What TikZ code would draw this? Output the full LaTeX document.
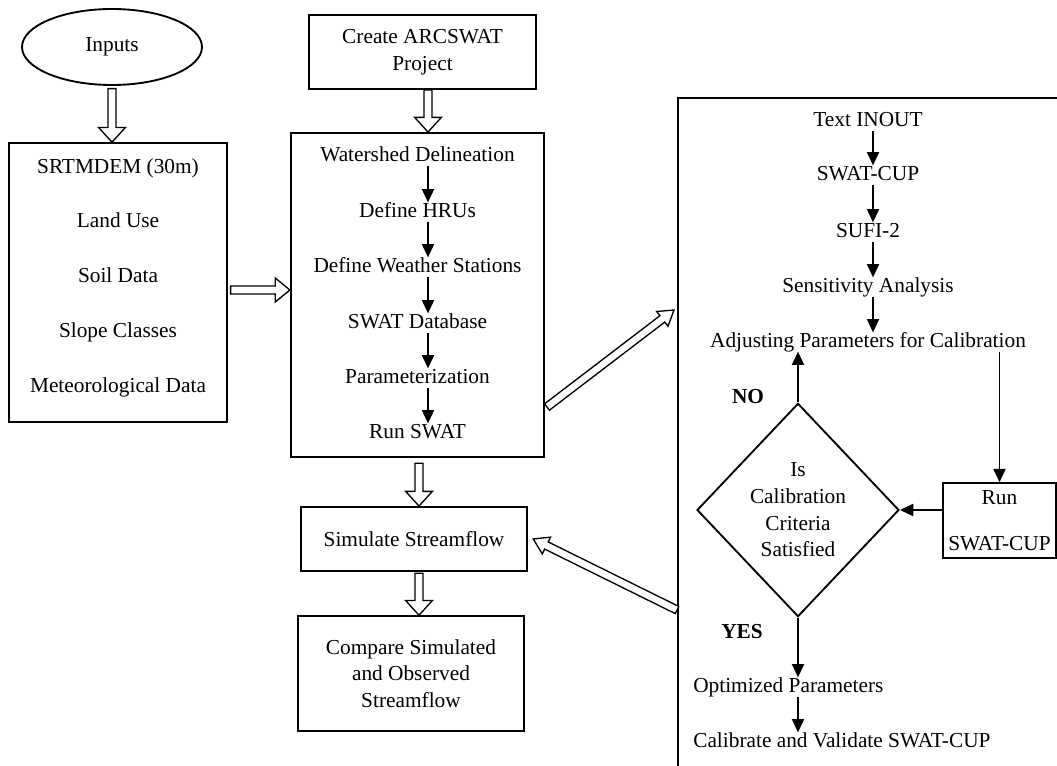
\documentclass[tikz,border=0pt]{standalone}
\usepackage{fontspec}
\setmainfont{Liberation Serif}
\usetikzlibrary{arrows.meta, positioning, shapes.geometric, calc}

% hollow block arrow between two points, optional head half-width
\newcommand\fatarrow[3][10pt]{%
  \coordinate (fa-a) at (#2);
  \coordinate (fa-b) at (#3);
  \coordinate (fa-h) at ($(fa-b)!11pt!(fa-a)$);
  \draw[hollow] ($(fa-a)!3pt!90:(fa-b)$) -- ($(fa-h)!3pt!-90:(fa-a)$) -- ($(fa-h)!#1!-90:(fa-a)$) -- (fa-b)
    -- ($(fa-h)!#1!90:(fa-a)$) -- ($(fa-h)!3pt!90:(fa-a)$) -- ($(fa-a)!3pt!-90:(fa-b)$) -- cycle;}

\begin{document}
\begin{tikzpicture}[x=0.75pt, y=-0.75pt,
    font=\fontsize{16}{20}\selectfont,
    box/.style={draw, line width=1.4pt, inner sep=0pt},
    lbl/.style={inner sep=0pt, text height=11pt, text depth=3pt},
    flow/.style={-{Triangle[length=10pt,width=9pt]}, line width=1.4pt},
    hollow/.style={draw, fill=white, line width=1pt, line join=miter}
]
\useasboundingbox (0,0) rectangle (1057,766);
\clip (0,0) rectangle (1057,766);

% Inputs
\node[box, ellipse, minimum width=135pt, minimum height=57pt] (inp) at (112,47) {Inputs};
\node[box, minimum width=163.5pt, minimum height=209pt] (data) at (118,282.5) {};
\node[lbl] (srtm) at (118,168) {SRTMDEM (30m)};
\node[lbl] (land) at (118,222) {Land Use};
\node[lbl] (soil) at (118,277) {Soil Data};
\node[lbl] (slope) at (118,332) {Slope Classes};
\node[lbl] (met) at (118,387) {Meteorological Data};

% ArcSWAT column
\node[box, minimum width=170pt, minimum height=55.5pt, align=center] (create) at (422.5,52) {Create ARCSWAT\\Project};
\node[box, minimum width=190pt, minimum height=243pt] (swat) at (417.5,295) {};
\node[lbl] (wd) at (417.5,156) {Watershed Delineation};
\node[lbl] (hru) at (417.5,212) {Define HRUs};
\node[lbl] (ws) at (417.5,267) {Define Weather Stations};
\node[lbl] (db) at (417.5,323) {SWAT Database};
\node[lbl] (par) at (417.5,378) {Parameterization};
\node[lbl] (runswat) at (417.5,433) {Run SWAT};
\node[box, minimum width=169.5pt, minimum height=48pt] (sim) at (414,539) {Simulate Streamflow};
\node[box, minimum width=169.5pt, minimum height=86pt, align=center] (cmp) at (411,673.5) {Compare Simulated\\and Observed\\Streamflow};

\coordinate (ax) at (428,0);
\coordinate (dx) at (419,0);
\coordinate (hy) at (0,290);
\draw[flow] (wd.south -| ax) -- (hru.north -| ax);
\draw[flow] (hru.south -| ax) -- (ws.north -| ax);
\draw[flow] (ws.south -| ax) -- (db.north -| ax);
\draw[flow] (db.south -| ax) -- (par.north -| ax);
\draw[flow] (par.south -| ax) -- (runswat.north -| ax);

% SWAT-CUP panel
\node[box, anchor=north west, minimum width=320pt, minimum height=560pt] (panel) at (677,97) {};
\node[lbl] (tin) at (868,121) {Text INOUT};
\node[lbl] (cup) at (868,175) {SWAT-CUP};
\node[lbl] (sufi) at (868,232) {SUFI-2};
\node[lbl] (sens) at (868,287) {Sensitivity Analysis};
\node[lbl] (adj) at (868,342) {Adjusting Parameters for Calibration};
\node[box, diamond, minimum width=151.5pt, minimum height=160pt, align=center] (crit) at (798,510) {Is\\Calibration\\Criteria\\Satisfied};
\node[box, minimum width=85pt, minimum height=56pt, align=center] (runcup) at (999.5,520.5) {Run\\[14.5pt]SWAT-CUP};
\node[font=\fontsize{16}{20}\selectfont\bfseries] (no) at (748,397) {NO};
\node[font=\fontsize{16}{20}\selectfont\bfseries] (yes) at (742,632) {YES};
\node[lbl, anchor=west] (opt) at (693,687) {Optimized Parameters};
\node[lbl, anchor=west] (calval) at (693,742) {Calibrate and Validate SWAT-CUP};

\coordinate (bx) at (873,0);
\draw[flow] (tin.south -| bx) -- (cup.north -| bx);
\draw[flow] (cup.south -| bx) -- (sufi.north -| bx);
\draw[flow] (sufi.south -| bx) -- (sens.north -| bx);
\draw[flow] (sens.south -| bx) -- (adj.north -| bx);
\draw[flow] (crit.north) -- (crit.north |- adj.south);
\draw[flow] (adj.south -| runcup.north) -- (runcup.north);
\draw[flow] (crit.east -| runcup.west) -- (crit.east);
\draw[flow] (crit.south) -- (crit.south |- opt.north);
\draw[flow] (opt.south -| crit.south) -- (calval.north -| crit.south);

% Block arrows
\coordinate (f1) at (547,407);
\coordinate (f2) at (674,310);
\coordinate (g1) at (677,610);
\fatarrow{[yshift=-2pt]inp.south}{data.north -| inp.south}
\fatarrow{create.south -| ax}{swat.north -| ax}
\fatarrow[9pt]{[xshift=2pt]data.east |- hy}{swat.west |- hy}
\fatarrow{[yshift=-4pt]swat.south -| dx}{sim.north -| dx}
\fatarrow{[yshift=-1pt]sim.south -| dx}{cmp.north -| dx}
\fatarrow[7pt]{f1}{f2}
\fatarrow[7pt]{g1}{[xshift=4pt]sim.east}

\end{tikzpicture}
\end{document}
